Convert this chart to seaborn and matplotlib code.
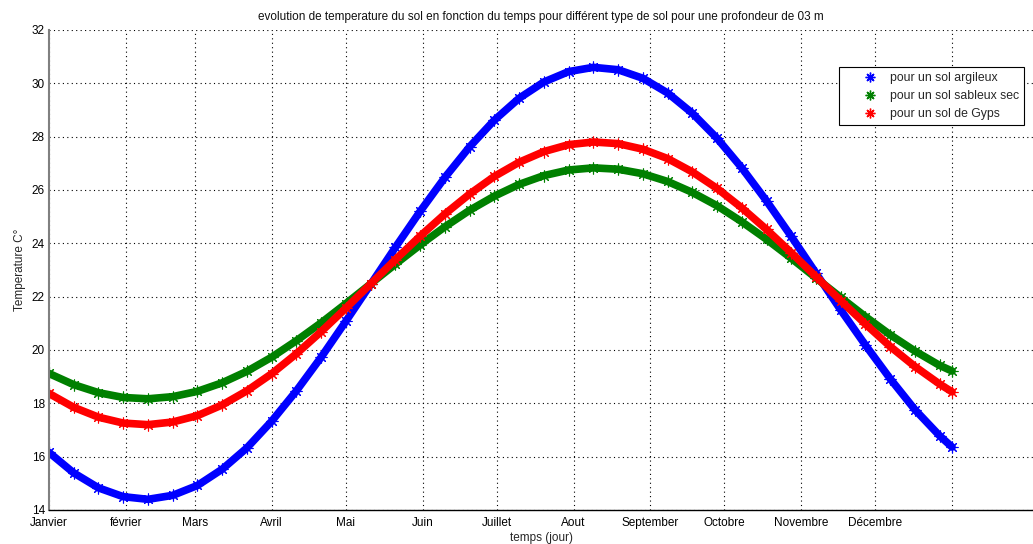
import matplotlib
matplotlib.use("Agg")
import matplotlib.pyplot as plt
from matplotlib.lines import Line2D
import seaborn as sns
import pandas as pd

# ---------------- data ----------------
days = [0, 10, 20, 30, 40, 50, 60, 70, 80, 90, 100, 110, 120, 130, 140, 150,
        160, 170, 180, 190, 200, 210, 220, 230, 240, 250, 260, 270, 280, 290,
        300, 310, 320, 330, 340, 350, 360, 365]

argileux = [16.16, 15.39, 14.83, 14.50, 14.40, 14.55, 14.92, 15.53, 16.33, 17.33,
            18.47, 19.73, 21.08, 22.46, 23.85, 25.20, 26.47, 27.62, 28.62, 29.44,
            30.05, 30.44, 30.60, 30.51, 30.19, 29.64, 28.88, 27.94, 26.83, 25.59,
            24.26, 22.88, 21.50, 20.18, 18.92, 17.76, 16.78, 16.36]

sableux = [19.12, 18.70, 18.40, 18.22, 18.17, 18.25, 18.45, 18.77, 19.20, 19.73,
           20.35, 21.02, 21.74, 22.48, 23.22, 23.94, 24.62, 25.24, 25.77, 26.21,
           26.54, 26.75, 26.83, 26.78, 26.61, 26.32, 25.91, 25.41, 24.81, 24.15,
           23.44, 22.70, 21.97, 21.25, 20.57, 19.96, 19.42, 19.21]

gyps = [18.37, 17.85, 17.48, 17.26, 17.20, 17.30, 17.54, 17.94, 18.47, 19.11,
        19.86, 20.69, 21.57, 22.48, 23.39, 24.27, 25.10, 25.85, 26.51, 27.04,
        27.44, 27.70, 27.80, 27.74, 27.53, 27.18, 26.68, 26.06, 25.33, 24.52,
        23.65, 22.75, 21.85, 20.97, 20.13, 19.38, 18.72, 18.43]

series_names = ["pour un sol argileux", "pour un sol sableux sec", "pour un sol de Gyps"]
month_ticks = [0, 31, 59, 90, 120, 151, 181, 212, 243, 273, 304, 334, 365]
month_labels = ["Janvier", "février", "Mars", "Avril", "Mai", "Juin", "Juillet",
                "Aout", "September", "Octobre", "Novembre", "Décembre", ""]
y_ticks = [14, 16, 18, 20, 22, 24, 26, 28, 30, 32]

title = ("evolution de temperature du sol en fonction du temps pour différent "
         "type de sol pour une profondeur de 03 m")

# ---------------- build long table ----------------
df = pd.DataFrame({
    "jour": days * 3,
    "temp": argileux + sableux + gyps,
    "sol": [series_names[0]] * len(days) + [series_names[1]] * len(days)
           + [series_names[2]] * len(days),
})

colors = ["#0000ff", "#008000", "#ff0000"]

sns.set_style("white")
plt.rcParams["font.family"] = ["Liberation Sans", "DejaVu Sans"]

fig = plt.figure(figsize=(10.33, 5.44), dpi=100)
ax = fig.add_axes([49 / 1033, 34 / 544, 1 - 49 / 1033, 480 / 544])

star = (8, 2, 0)
for name, c in zip(series_names, colors):
    sub = df[df["sol"] == name]
    sns.lineplot(data=sub, x="jour", y="temp", color=c, ax=ax,
                 linewidth=5.5, marker=star, markersize=8.5, markeredgewidth=0.8,
                 markeredgecolor=c, markerfacecolor=c, sort=False)

ax.set_xlim(0, 397.7)
ax.set_ylim(14, 32)
ax.set_xticks(month_ticks)
ax.set_xticklabels(month_labels, fontsize=8.5)
ax.set_yticks(y_ticks)
ax.set_yticklabels([str(v) for v in y_ticks], fontsize=8.5)
ax.tick_params(direction="in", length=7, width=1, colors="black")
ax.tick_params(axis="x", pad=5)
ax.tick_params(axis="y", pad=3)

ax.grid(True, color="black", linestyle=(0, (1, 3)), linewidth=0.8)
for s in ["top", "right"]:
    ax.spines[s].set_visible(False)
ax.spines["left"].set_color("#808080")
ax.spines["left"].set_linewidth(1.5)
ax.spines["bottom"].set_color("black")
ax.spines["bottom"].set_linewidth(1)

ax.set_xlabel("temps (jour)", fontsize=8.5, labelpad=2)
ax.set_ylabel("Temperature C°", fontsize=8.5, labelpad=4)
ax.set_title(title, fontsize=8.5, pad=7, color="#111111")

handles = [Line2D([], [], linestyle="none", marker=star, markersize=7,
                  markeredgewidth=1, color=c) for c in colors]
leg = ax.legend(handles, series_names, loc="upper right",
                bbox_to_anchor=(1024 / 1033, 1 - 67 / 544),
                bbox_transform=fig.transFigure, fontsize=8.8, frameon=True,
                fancybox=False, framealpha=1, edgecolor="black",
                handlelength=4.3, handletextpad=-0.5, borderpad=0.4,
                labelspacing=0.5, borderaxespad=0)
leg.get_frame().set_linewidth(0.8)

fig.savefig("out.png", dpi=100)
